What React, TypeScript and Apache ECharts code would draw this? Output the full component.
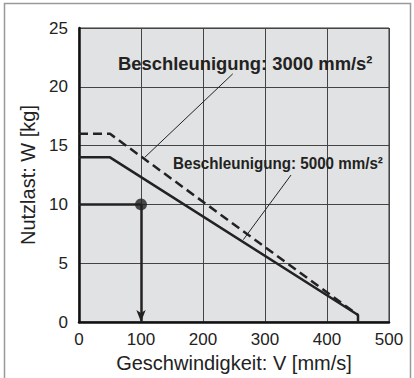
import React, { useEffect, useRef } from "react";
import * as echarts from "echarts";

const xTicks = [0, 100, 200, 300, 400, 500];
const yTicks = [0, 5, 10, 15, 20, 25];
// Beschleunigung 3000 mm/s² (dashed)
const accel3000: [number, number][] = [
  [0, 16],
  [50, 16],
  [450, 0.6],
];
// Beschleunigung 5000 mm/s² (solid)
const accel5000: [number, number][] = [
  [0, 14],
  [50, 14],
  [450, 0.6],
  [450, 0],
];
// Example reading: 10 kg -> 100 mm/s
const examplePoint: [number, number] = [100, 10];
const exampleHLine: [number, number][] = [
  [0, 10],
  [100, 10],
];
const leader3000: [number, number][] = [
  [248, 21.1],
  [106, 14.0],
];
const leader5000: [number, number][] = [
  [342, 12.5],
  [265, 7.0],
];
const label3000 = "Beschleunigung: 3000 mm/s²";
const label5000 = "Beschleunigung: 5000 mm/s²";
const xName = "Geschwindigkeit: V [mm/s]";
const yName = "Nutzlast: W [kg]";

export default function App() {
  const ref = useRef<HTMLDivElement>(null);
  useEffect(() => {
    if (!ref.current) return;
    const chart = echarts.init(ref.current, undefined, { renderer: "svg" });
    const ink = "#222";
    const font = "'Liberation Sans', Arial, Helvetica, sans-serif";
    chart.setOption({
      animation: false,
      backgroundColor: "#fff",
      textStyle: { fontFamily: font },
      grid: {
        left: 79,
        top: 28,
        right: 25,
        bottom: 56,
        show: true,
        backgroundColor: "#e1e2e3",
        borderColor: "#333",
        borderWidth: 1,
      },
      xAxis: {
        type: "value",
        min: xTicks[0],
        max: xTicks[xTicks.length - 1],
        interval: 100,
        name: xName,
        nameLocation: "middle",
        nameGap: 31,
        nameTextStyle: { fontSize: 20, color: ink, fontFamily: font },
        axisLine: { show: true, lineStyle: { color: "#111", width: 2.5 } },
        axisTick: { show: false },
        axisLabel: { fontSize: 17, color: ink, margin: 9, fontFamily: font },
        splitLine: { show: true, lineStyle: { color: "#444", width: 1 } },
      },
      yAxis: {
        type: "value",
        min: yTicks[0],
        max: yTicks[yTicks.length - 1],
        interval: 5,
        name: yName,
        nameLocation: "middle",
        nameGap: 38,
        nameTextStyle: { fontSize: 20, color: ink, fontFamily: font },
        axisLine: { show: true, lineStyle: { color: "#111", width: 2.5 } },
        axisTick: { show: false },
        axisLabel: { fontSize: 17, color: ink, margin: 11, fontFamily: font },
        splitLine: { show: true, lineStyle: { color: "#444", width: 1 } },
      },
      graphic: [
        {
          type: "rect",
          shape: { x: 4.5, y: 3.5, width: 406, height: 420 },
          style: { fill: "none", stroke: "#999", lineWidth: 1.5 },
          silent: true,
          z: 100,
        },
        {
          type: "text",
          x: 118,
          y: 63,
          style: {
            text: label3000,
            font: `bold 18.4px ${font}`,
            fill: ink,
            verticalAlign: "middle",
          },
          z: 100,
        },
        {
          type: "text",
          x: 173,
          y: 163,
          scaleX: 0.92,
          style: {
            text: label5000,
            font: `bold 16.5px ${font}`,
            fill: ink,
            verticalAlign: "middle",
          },
          z: 100,
        },
      ],
      series: [
        {
          type: "line",
          data: accel3000,
          symbol: "none",
          lineStyle: { color: ink, width: 2.5, type: [9, 5] },
          z: 3,
        },
        {
          type: "line",
          data: accel5000,
          symbol: "none",
          lineStyle: { color: ink, width: 2.5 },
          z: 4,
        },
        {
          type: "line",
          data: exampleHLine,
          symbol: "none",
          lineStyle: { color: ink, width: 2.5 },
          z: 4,
          markLine: {
            silent: true,
            symbol: ["none", "arrow"],
            symbolSize: [7, 12],
            label: { show: false },
            lineStyle: { color: ink, width: 2.5, type: "solid" },
            data: [[{ coord: examplePoint }, { coord: [examplePoint[0], 0] }]],
          },
        },
        {
          type: "scatter",
          data: [examplePoint],
          symbolSize: 12,
          itemStyle: { color: ink },
          z: 5,
        },
        {
          type: "line",
          data: leader3000,
          symbol: "none",
          lineStyle: { color: ink, width: 1 },
          z: 5,
        },
        {
          type: "line",
          data: leader5000,
          symbol: "none",
          lineStyle: { color: ink, width: 1 },
          z: 5,
        },
      ],
    });
    return () => chart.dispose();
  }, []);
  return (
    <div
      ref={ref}
      style={{ position: "absolute", left: 0, top: 0, width: 414, height: 378 }}
    />
  );
}
